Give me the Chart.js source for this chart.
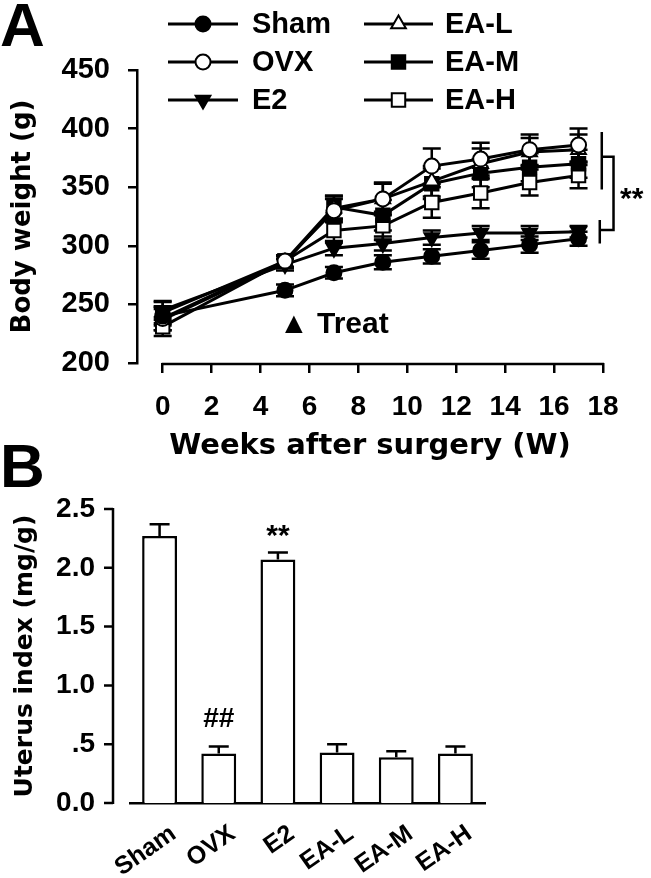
<!DOCTYPE html>
<html>
<head>
<meta charset="utf-8">
<script src="https://cdn.jsdelivr.net/npm/chart.js@4.4.1/dist/chart.umd.min.js"></script>
<style>
  html, body { margin: 0; padding: 0; background: #fff; }
  #wrap { position: relative; width: 651px; height: 878px; overflow: hidden; }
  canvas { position: absolute; left: 0; }
  #chartA { top: 0; }
  #chartB { top: 440px; }
</style>
</head>
<body>
<div id="wrap">
  <canvas id="chartA" width="651" height="470"></canvas>
  <canvas id="chartB" width="651" height="438"></canvas>
</div>
<script>
// ---- panel A data: body weight (g) ----
const weeks = [0, 5, 7, 9, 11, 13, 15, 17];
const xTicksA = [0, 2, 4, 6, 8, 10, 12, 14, 16, 18];
const shamWeight = [240, 262, 277, 286, 291, 296, 301, 306];
const shamErr    = [8, 5, 5, 6, 6, 7, 7, 6];
const ovxWeight  = [238, 287, 330, 340, 368, 374, 382, 386];
const ovxErr     = [10, 5, 10, 14, 15, 14, 13, 14];
const e2Weight   = [245, 284, 298, 302, 307, 311, 311, 312];
const e2Err      = [8, 5, 6, 6, 6, 6, 6, 5];
const eaLWeight  = [237, 286, 332, 340, 355, 370, 380, 382];
const eaLErr     = [9, 5, 10, 13, 13, 13, 12, 13];
const eaMWeight  = [243, 287, 333, 326, 353, 362, 367, 370];
const eaMErr     = [9, 5, 10, 13, 13, 12, 12, 12];
const eaHWeight  = [231, 287, 313, 317, 337, 345, 354, 360];
const eaHErr     = [8, 5, 10, 12, 13, 13, 11, 11];

// ---- panel B data: uterus index (mg/g) ----
const groups = ['Sham', 'OVX', 'E2', 'EA-L', 'EA-M', 'EA-H'];
const uterusIndex = [2.27, 0.42, 2.07, 0.43, 0.39, 0.42];
const uterusErr   = [0.10, 0.06, 0.06, 0.07, 0.05, 0.06];
const yTicksB = ['0.0', '.5', '1.0', '1.5', '2.0', '2.5'];

Chart.defaults.font.family = 'Liberation Sans';
Chart.defaults.font.weight = 'bold';
Chart.defaults.color = '#000';

const markers = {
  'Sham': { pointStyle: 'circle',   bg: '#000', radius: 7.5, rotation: 0 },
  'OVX':  { pointStyle: 'circle',   bg: '#fff', radius: 7.5, rotation: 0 },
  'E2':   { pointStyle: 'triangle', bg: '#000', radius: 8.5, rotation: 180 },
  'EA-L': { pointStyle: 'triangle', bg: '#fff', radius: 8.5, rotation: 0 },
  'EA-M': { pointStyle: 'rect',     bg: '#000', radius: 9.5, rotation: 0 },
  'EA-H': { pointStyle: 'rect',     bg: '#fff', radius: 9.5, rotation: 0 }
};

function series(label, vals, errs) {
  const m = markers[label];
  return {
    label: label,
    data: weeks.map((w, i) => ({ x: w, y: vals[i] })),
    errors: errs,
    borderColor: '#000',
    borderWidth: 3,
    pointStyle: m.pointStyle,
    rotation: m.rotation,
    pointRadius: m.radius,
    pointBackgroundColor: m.bg,
    pointBorderColor: '#000',
    pointBorderWidth: 2,
    tension: 0
  };
}

// error bars under the markers (panel A)
const lineErrors = {
  id: 'lineErrors',
  beforeDatasetsDraw(chart) {
    const ctx = chart.ctx, ys = chart.scales.y;
    ctx.save();
    ctx.strokeStyle = '#000';
    ctx.lineWidth = 2.5;
    chart.data.datasets.forEach((ds, di) => {
      chart.getDatasetMeta(di).data.forEach((pt, i) => {
        const v = ds.data[i].y, e = ds.errors[i];
        const top = ys.getPixelForValue(v + e), bot = ys.getPixelForValue(v - e);
        ctx.beginPath();
        ctx.moveTo(pt.x, top); ctx.lineTo(pt.x, bot);
        ctx.moveTo(pt.x - 9, top); ctx.lineTo(pt.x + 9, top);
        ctx.moveTo(pt.x - 9, bot); ctx.lineTo(pt.x + 9, bot);
        ctx.stroke();
      });
    });
    ctx.restore();
  }
};

// axis line, legend, annotations (panel A)
const decorA = {
  id: 'decorA',
  afterDraw(chart) {
    const ctx = chart.ctx, xs = chart.scales.x, ys = chart.scales.y;
    const area = chart.chartArea;
    ctx.save();
    ctx.strokeStyle = '#000';
    ctx.fillStyle = '#000';
    ctx.lineWidth = 2.5;
    // x axis line only from 0 to 18
    ctx.beginPath();
    ctx.moveTo(xs.getPixelForValue(0) - 1, area.bottom + 1);
    ctx.lineTo(xs.getPixelForValue(18) + 1, area.bottom + 1);
    ctx.stroke();

    // legend: two columns of three
    const colLine = [[168, 238], [364, 433]];
    const colText = [252, 445];
    const rowY = [24, 62, 100];
    ctx.font = 'bold 29px "Liberation Sans"';
    ctx.textBaseline = 'middle';
    ctx.textAlign = 'left';
    chart.data.datasets.forEach((ds, i) => {
      const c = Math.floor(i / 3), r = i % 3;
      const m = markers[ds.label];
      const y = rowY[r];
      ctx.lineWidth = 3;
      ctx.strokeStyle = '#000';
      ctx.beginPath();
      ctx.moveTo(colLine[c][0], y); ctx.lineTo(colLine[c][1], y);
      ctx.stroke();
      ctx.fillStyle = m.bg;
      ctx.lineWidth = 2;
      Chart.helpers.drawPoint(ctx, { pointStyle: m.pointStyle, rotation: m.rotation, radius: m.radius, borderWidth: 2 },
        (colLine[c][0] + colLine[c][1]) / 2, y);
      ctx.fillStyle = '#000';
      ctx.fillText(ds.label, colText[c], y + 1);
    });

    // treatment marker
    ctx.font = 'bold 30px "Liberation Sans"';
    ctx.textBaseline = 'alphabetic';
    ctx.fillText('\u25B2 Treat', xs.getPixelForValue(5) - 6, ys.getPixelForValue(225.5));

    // significance bracket
    ctx.lineWidth = 2.5;
    const xa = xs.getPixelForValue(17.95), xb = xs.getPixelForValue(18.43);
    ctx.beginPath();
    ctx.moveTo(xa, ys.getPixelForValue(397)); ctx.lineTo(xa, ys.getPixelForValue(348));
    ctx.moveTo(xa - 2, ys.getPixelForValue(322)); ctx.lineTo(xa - 2, ys.getPixelForValue(302));
    ctx.moveTo(xa, ys.getPixelForValue(376)); ctx.lineTo(xb, ys.getPixelForValue(376));
    ctx.lineTo(xb, ys.getPixelForValue(313.5)); ctx.lineTo(xa - 2, ys.getPixelForValue(313.5));
    ctx.stroke();
    ctx.font = 'bold 30px "Liberation Sans"';
    ctx.fillText('**', xs.getPixelForValue(18.7), ys.getPixelForValue(332));

    // panel letter
    ctx.font = 'bold 62px "Liberation Sans"';
    ctx.fillText('A', 0, 46);
    ctx.restore();
  }
};

new Chart(document.getElementById('chartA'), {
  type: 'line',
  data: {
    datasets: [
      series('Sham', shamWeight, shamErr),
      series('OVX', ovxWeight, ovxErr),
      series('E2', e2Weight, e2Err),
      series('EA-L', eaLWeight, eaLErr),
      series('EA-M', eaMWeight, eaMErr),
      series('EA-H', eaHWeight, eaHErr)
    ]
  },
  options: {
    responsive: false,
    animation: false,
    devicePixelRatio: 1,
    layout: { padding: { top: 70, right: 48, left: 0, bottom: 0 } },
    plugins: { legend: { display: false }, tooltip: { enabled: false } },
    scales: {
      x: {
        type: 'linear',
        min: -1.05,
        max: 18,
        afterBuildTicks: s => { s.ticks = xTicksA.map(v => ({ value: v })); },
        afterFit: s => { s.height = 107; },
        border: { display: false },
        grid: { drawOnChartArea: false, tickLength: 10, color: '#000', lineWidth: 2.5 },
        ticks: { font: { size: 28, weight: 'bold' }, padding: 17, maxRotation: 0 },
        title: {
          display: true, text: 'Weeks after surgery (W)',
          font: { family: 'DejaVu Sans', size: 29, weight: 'bold' },
          padding: { top: 0, bottom: 6 }
        }
      },
      y: {
        min: 200,
        max: 450,
        afterFit: s => { s.width = 137; },
        border: { color: '#000', width: 2.5 },
        grid: { drawOnChartArea: false, tickLength: 9, color: '#000', lineWidth: 2.5 },
        ticks: { stepSize: 50, font: { size: 29, weight: 'bold' }, padding: 18 },
        title: {
          display: true, text: 'Body weight (g)',
          font: { family: 'DejaVu Sans', size: 26, weight: 'bold' },
          padding: { top: 8, bottom: 0 }
        }
      }
    }
  },
  plugins: [lineErrors, decorA]
});

// error bars, y axis line and labels (panel B)
const decorB = {
  id: 'decorB',
  afterDatasetsDraw(chart) {
    const ctx = chart.ctx, ys = chart.scales.y;
    const area = chart.chartArea;
    ctx.save();
    ctx.strokeStyle = '#000';
    ctx.fillStyle = '#000';
    ctx.lineWidth = 2.5;
    chart.getDatasetMeta(0).data.forEach((bar, i) => {
      const top = ys.getPixelForValue(uterusIndex[i]);
      const cap = ys.getPixelForValue(uterusIndex[i] + uterusErr[i]);
      ctx.beginPath();
      ctx.moveTo(bar.x, top); ctx.lineTo(bar.x, cap);
      ctx.moveTo(bar.x - 10, cap); ctx.lineTo(bar.x + 10, cap);
      ctx.stroke();
    });
    // detached y axis with outside ticks
    const ax = area.left - 17;
    ctx.beginPath();
    ctx.moveTo(ax, ys.getPixelForValue(2.5) - 1);
    ctx.lineTo(ax, ys.getPixelForValue(0) + 1);
    ys.ticks.forEach(t => {
      const y = ys.getPixelForValue(t.value);
      ctx.moveTo(ax - 9, y); ctx.lineTo(ax, y);
    });
    ctx.stroke();

    const bars = chart.getDatasetMeta(0).data;
    ctx.textAlign = 'center';
    ctx.textBaseline = 'alphabetic';
    ctx.font = 'bold 28px "Liberation Sans"';
    ctx.fillText('##', bars[1].x, ys.getPixelForValue(uterusIndex[1] + uterusErr[1]) - 20);
    ctx.font = 'bold 30px "Liberation Sans"';
    ctx.fillText('**', bars[2].x, ys.getPixelForValue(uterusIndex[2] + uterusErr[2]) - 8);

    ctx.textAlign = 'left';
    ctx.font = 'bold 62px "Liberation Sans"';
    ctx.fillText('B', 0, 47);
    ctx.restore();
  }
};

new Chart(document.getElementById('chartB'), {
  type: 'bar',
  data: {
    labels: groups,
    datasets: [{
      label: 'Uterus index',
      data: uterusIndex,
      backgroundColor: '#fff',
      borderColor: '#000',
      borderWidth: 2.5,
      barPercentage: 0.59,
      categoryPercentage: 1.0
    }]
  },
  options: {
    responsive: false,
    animation: false,
    devicePixelRatio: 1,
    layout: { padding: { top: 69, right: 166, left: 0, bottom: 0 } },
    plugins: { legend: { display: false }, tooltip: { enabled: false } },
    scales: {
      x: {
        afterFit: s => { s.height = 75; },
        grid: { display: false, drawTicks: false },
        border: { display: true, color: '#000', width: 2.5 },
        ticks: { minRotation: 35, maxRotation: 35, labelOffset: 14, padding: 16,
                 font: { size: 25, weight: 'bold' } }
      },
      y: {
        min: 0,
        max: 2.5,
        afterFit: s => { s.width = 130; },
        border: { display: false },
        grid: { display: false, drawTicks: false },
        ticks: { stepSize: 0.5, padding: 35, font: { size: 28, weight: 'bold' },
                 callback: (v, i) => yTicksB[i] },
        title: {
          display: true, text: 'Uterus index (mg/g)',
          font: { family: 'DejaVu Sans', size: 25, weight: 'bold' },
          padding: { top: 10, bottom: 0 }
        }
      }
    }
  },
  plugins: [decorB]
});
</script>
</body>
</html>
